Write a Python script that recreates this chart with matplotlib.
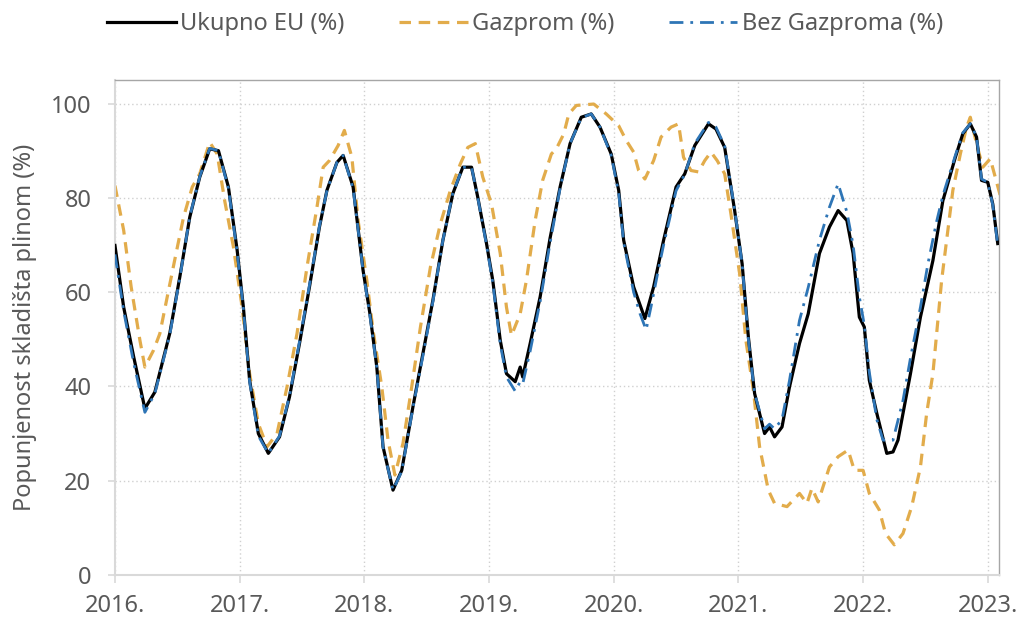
import matplotlib
matplotlib.use("Agg")
import matplotlib.pyplot as plt

plt.rcParams['font.family'] = ['Noto Sans', 'DejaVu Sans']

# values (decimal year, % fill)
eu_x = [2016.00, 2016.07, 2016.15, 2016.24, 2016.32, 2016.44, 2016.52, 2016.60,
        2016.68, 2016.76, 2016.83, 2016.91, 2016.98, 2017.03, 2017.08, 2017.15,
        2017.23, 2017.32, 2017.40, 2017.48, 2017.56, 2017.64, 2017.70, 2017.78,
        2017.83, 2017.91, 2017.99, 2018.045, 2018.10, 2018.15, 2018.23, 2018.30,
        2018.39, 2018.47, 2018.55, 2018.63, 2018.71, 2018.79, 2018.86, 2018.91,
        2018.98, 2019.03, 2019.09, 2019.14, 2019.21, 2019.25, 2019.27, 2019.33,
        2019.41, 2019.49, 2019.57, 2019.65, 2019.74, 2019.82, 2019.89, 2019.98,
        2020.04, 2020.08, 2020.16, 2020.25, 2020.32, 2020.40, 2020.50, 2020.57,
        2020.65, 2020.76, 2020.82, 2020.89, 2020.97, 2021.03, 2021.08, 2021.13,
        2021.21, 2021.25, 2021.29, 2021.35, 2021.41, 2021.49, 2021.56, 2021.65,
        2021.73, 2021.80, 2021.87, 2021.92, 2021.97, 2022.01, 2022.05, 2022.11,
        2022.19, 2022.24, 2022.28, 2022.38, 2022.46, 2022.56, 2022.64, 2022.74,
        2022.80, 2022.86, 2022.91, 2022.95, 2023.00, 2023.04, 2023.08]
eu_y = [69.9, 56.8, 46.3, 35.3, 38.8, 51.3, 63.2, 75.9,
        84.4, 90.4, 90.0, 82.3, 68.9, 56.8, 41.3, 30.0,
        25.8, 29.3, 37.8, 49.1, 61.1, 73.8, 81.6, 87.5,
        89.0, 82.3, 64.6, 55.4, 44.1, 27.2, 18.0, 22.2,
        35.7, 47.0, 58.3, 71.0, 80.9, 86.5, 86.5, 80.1,
        70.3, 62.5, 49.8, 42.7, 41.0, 44.1, 42.0, 49.1,
        59.0, 71.5, 82.3, 91.5, 97.1, 97.8, 95.0, 89.3,
        81.6, 71.0, 61.1, 54.4, 61.1, 71.0, 82.3, 85.1,
        91.1, 95.7, 94.6, 90.7, 77.3, 66.0, 50.5, 38.5,
        30.0, 31.4, 29.3, 31.4, 39.9, 49.1, 55.4, 68.2,
        73.8, 77.3, 75.2, 68.2, 54.7, 52.6, 41.3, 34.3,
        25.8, 26.1, 28.6, 42.7, 54.7, 66.7, 79.4, 88.6,
        93.6, 95.7, 92.9, 83.7, 83.3, 78.7, 70.3]

gaz_x = [2016.00, 2016.07, 2016.13, 2016.20, 2016.24, 2016.31, 2016.36, 2016.43,
         2016.49, 2016.55, 2016.62, 2016.68, 2016.76, 2016.82, 2016.88, 2016.95,
         2017.02, 2017.08, 2017.15, 2017.22, 2017.30, 2017.38, 2017.46, 2017.54,
         2017.62, 2017.67, 2017.72, 2017.79, 2017.84, 2017.90, 2017.95, 2018.02,
         2018.07, 2018.14, 2018.19, 2018.245, 2018.31, 2018.38, 2018.45, 2018.53,
         2018.61, 2018.69, 2018.77, 2018.83, 2018.89, 2018.95, 2019.02, 2019.09,
         2019.14, 2019.18, 2019.25, 2019.30, 2019.37, 2019.43, 2019.50, 2019.54,
         2019.60, 2019.64, 2019.70, 2019.84, 2019.94, 2020.04, 2020.10, 2020.16,
         2020.20, 2020.25, 2020.32, 2020.38, 2020.46, 2020.52, 2020.56, 2020.62,
         2020.68, 2020.73, 2020.78, 2020.83, 2020.89, 2020.94, 2021.01, 2021.06,
         2021.12, 2021.17, 2021.24, 2021.29, 2021.39, 2021.49, 2021.55, 2021.59,
         2021.64, 2021.73, 2021.80, 2021.88, 2021.93, 2022.00, 2022.05, 2022.13,
         2022.18, 2022.25, 2022.32, 2022.39, 2022.46, 2022.51, 2022.56, 2022.59,
         2022.63, 2022.67, 2022.72, 2022.78, 2022.83, 2022.86, 2022.91, 2022.96,
         2023.02, 2023.06, 2023.10]
gaz_y = [82.6, 73.1, 61.1, 49.8, 44.1, 47.7, 51.2, 60.4,
         68.2, 75.9, 82.3, 85.1, 91.8, 89.3, 79.4, 69.6,
         56.8, 42.7, 32.1, 27.2, 30.0, 39.9, 51.2, 65.3,
         78.0, 86.5, 87.9, 91.1, 94.3, 88.6, 75.2, 62.5,
         51.9, 39.9, 28.6, 21.2, 27.9, 39.9, 52.6, 65.3,
         74.5, 81.6, 87.2, 90.7, 91.5, 84.4, 78.7, 68.2,
         56.8, 50.8, 55.4, 62.5, 75.2, 83.7, 89.3, 90.4,
         93.6, 97.8, 99.6, 99.9, 97.8, 95.3, 92.2, 89.7,
         85.8, 84.0, 87.9, 92.9, 95.0, 95.7, 88.6, 85.8,
         85.5, 87.9, 89.7, 87.9, 85.1, 76.6, 63.9, 49.8,
         39.2, 27.2, 18.0, 15.2, 14.5, 17.3, 15.2, 18.4,
         15.5, 22.9, 25.1, 26.5, 22.2, 22.2, 17.3, 13.8,
         8.8, 6.4, 8.8, 14.5, 22.9, 34.3, 42.7, 51.2,
         62.5, 71.0, 81.6, 89.3, 95.0, 97.1, 91.5, 86.5,
         88.3, 84.4, 80.5]

bez_x = [2016.00, 2016.07, 2016.15, 2016.24, 2016.32, 2016.44, 2016.52, 2016.60,
         2016.68, 2016.76, 2016.83, 2016.91, 2016.98, 2017.03, 2017.08, 2017.15,
         2017.23, 2017.32, 2017.40, 2017.48, 2017.56, 2017.64, 2017.70, 2017.78,
         2017.83, 2017.91, 2017.99, 2018.045, 2018.10, 2018.15, 2018.23, 2018.30,
         2018.39, 2018.47, 2018.55, 2018.63, 2018.71, 2018.79, 2018.86, 2018.91,
         2018.98, 2019.03, 2019.09, 2019.14, 2019.21, 2019.25, 2019.27, 2019.33,
         2019.41, 2019.49, 2019.57, 2019.65, 2019.74, 2019.82, 2019.89, 2019.98,
         2020.04, 2020.08, 2020.16, 2020.21, 2020.26, 2020.30, 2020.36, 2020.40,
         2020.50, 2020.57, 2020.65, 2020.76, 2020.82, 2020.89, 2020.97, 2021.03,
         2021.08, 2021.13, 2021.21, 2021.25, 2021.29, 2021.35, 2021.41, 2021.49,
         2021.56, 2021.65, 2021.73, 2021.80, 2021.87, 2021.92, 2021.97, 2022.01,
         2022.05, 2022.11, 2022.16, 2022.24, 2022.32, 2022.38, 2022.46, 2022.52,
         2022.59, 2022.64, 2022.74, 2022.80, 2022.86, 2022.91, 2022.95, 2023.00,
         2023.04, 2023.08]
bez_y = [68.0, 56.0, 45.0, 34.5, 38.5, 51.0, 63.0, 76.0,
         84.5, 90.5, 90.0, 82.0, 68.5, 56.5, 41.0, 29.5,
         25.8, 29.5, 38.0, 49.5, 61.5, 74.0, 81.5, 87.5,
         89.0, 82.0, 64.5, 55.0, 44.0, 27.0, 18.0, 22.0,
         35.5, 46.5, 58.0, 71.0, 81.0, 86.5, 86.5, 80.0,
         70.0, 62.0, 49.0, 42.0, 39.0, 41.0, 40.5, 47.5,
         58.0, 70.5, 82.0, 91.5, 97.0, 97.8, 95.0, 89.0,
         81.0, 70.5, 60.0, 55.5, 52.0, 57.0, 65.0, 70.0,
         81.5, 85.0, 91.5, 96.0, 95.0, 91.0, 77.5, 66.0,
         50.0, 38.5, 31.0, 32.0, 31.0, 33.0, 41.3, 54.0,
         61.0, 71.0, 78.0, 83.0, 77.0, 70.0, 59.0, 53.0,
         43.0, 33.0, 28.6, 28.6, 37.0, 46.0, 56.8, 66.0,
         75.0, 80.5, 89.0, 93.8, 95.7, 93.0, 84.0, 83.3,
         78.5, 70.0]

years = [2016, 2017, 2018, 2019, 2020, 2021, 2022, 2023]
year_labels = ['2016.', '2017.', '2018.', '2019.', '2020.', '2021.', '2022.', '2023.']
y_ticks = [0, 20, 40, 60, 80, 100]

TXT = '#595959'
GRID = '#d0d0d0'

fig = plt.figure(figsize=(10.2, 6.22), dpi=100)
ax = fig.add_axes([0.1127, 0.0756, 0.8667, 0.7958])

ax.plot(eu_x, eu_y, color='black', lw=2.3, label='Ukupno EU (%)', zorder=3)
ax.plot(gaz_x, gaz_y, color='#E2AC4B', lw=2.3, ls=(0, (3.6, 2.4)),
        label='Gazprom (%)', zorder=2)
ax.plot(bez_x, bez_y, color='#2E75B6', lw=2.0, ls=(0, (5, 2.5, 1, 2.5)),
        label='Bez Gazproma (%)', zorder=4)

ax.set_xlim(2016, 2023.09)
ax.set_ylim(0, 105)
ax.set_xticks(years)
ax.set_xticklabels(year_labels)
ax.set_yticks(y_ticks)
ax.grid(True, color=GRID, ls=(0, (1, 2)), lw=1.0)
ax.set_axisbelow(True)

for s in ('left', 'bottom'):
    ax.spines[s].set_color('#d9d9d9')
    ax.spines[s].set_linewidth(1.5)
for s in ('top', 'right'):
    ax.spines[s].set_color('#a6a6a6')
    ax.spines[s].set_linewidth(1.0)

ax.tick_params(axis='both', colors='#d9d9d9', labelcolor=TXT, labelsize=17,
               width=1.2)
ax.tick_params(axis='x', length=6, pad=8)
ax.tick_params(axis='y', length=5, pad=12)
ax.set_ylabel('Popunjenost skladišta plinom (%)', color=TXT, fontsize=17,
              labelpad=10)

fig.legend(loc='upper center', bbox_to_anchor=(0.515, 1.015), ncol=3,
           frameon=False, fontsize=17, labelcolor=TXT, handlelength=2.9,
           columnspacing=2.3, handletextpad=0.2)

fig.savefig('out.png', dpi=100)
